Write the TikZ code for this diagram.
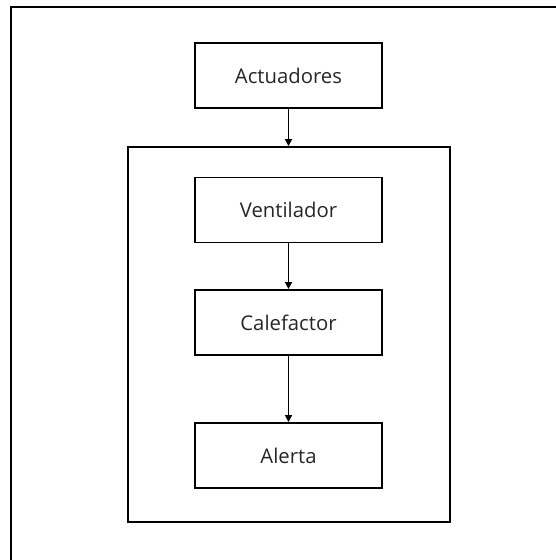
\documentclass[tikz,border=0pt]{standalone}
\usepackage{fontspec}
\setmainfont{Open Sans}
\usetikzlibrary{arrows.meta}
\begin{document}
\begin{tikzpicture}[x=1pt,y=-1pt,
  box/.style={draw=black, line width=1.9pt, minimum width=187pt, minimum height=65pt, inner sep=0pt, font=\fontsize{20.3}{23}\selectfont, text=black!85},
  arr/.style={line width=1.7pt, -{Triangle[length=7pt,width=7pt]}}]
\useasboundingbox (0,0) rectangle (555,560);
\coordinate (ftl) at (11,7);
\coordinate (ftr) at (556,7);
\coordinate (fbl) at (11,561);
\draw[line width=2.6pt] (ftr) -- (ftl) -- (fbl);
\node[draw=black, line width=1.9pt, minimum width=322pt, minimum height=375pt, inner sep=0pt] (inner) at (289,334.5) {};
\node[box] (act) at (288.5,75.5) {Actuadores};
\node[box] (ven) at (288.5,210) {Ventilador};
\node[box] (cal) at (288.5,322.5) {Calefactor};
\node[box] (ale) at (288.5,455.5) {Alerta};
\draw[arr] (act.south) -- (act.south |- inner.north);
\draw[arr] (ven.south) -- (cal.north);
\draw[arr] (cal.south) -- (ale.north);
\end{tikzpicture}
\end{document}
